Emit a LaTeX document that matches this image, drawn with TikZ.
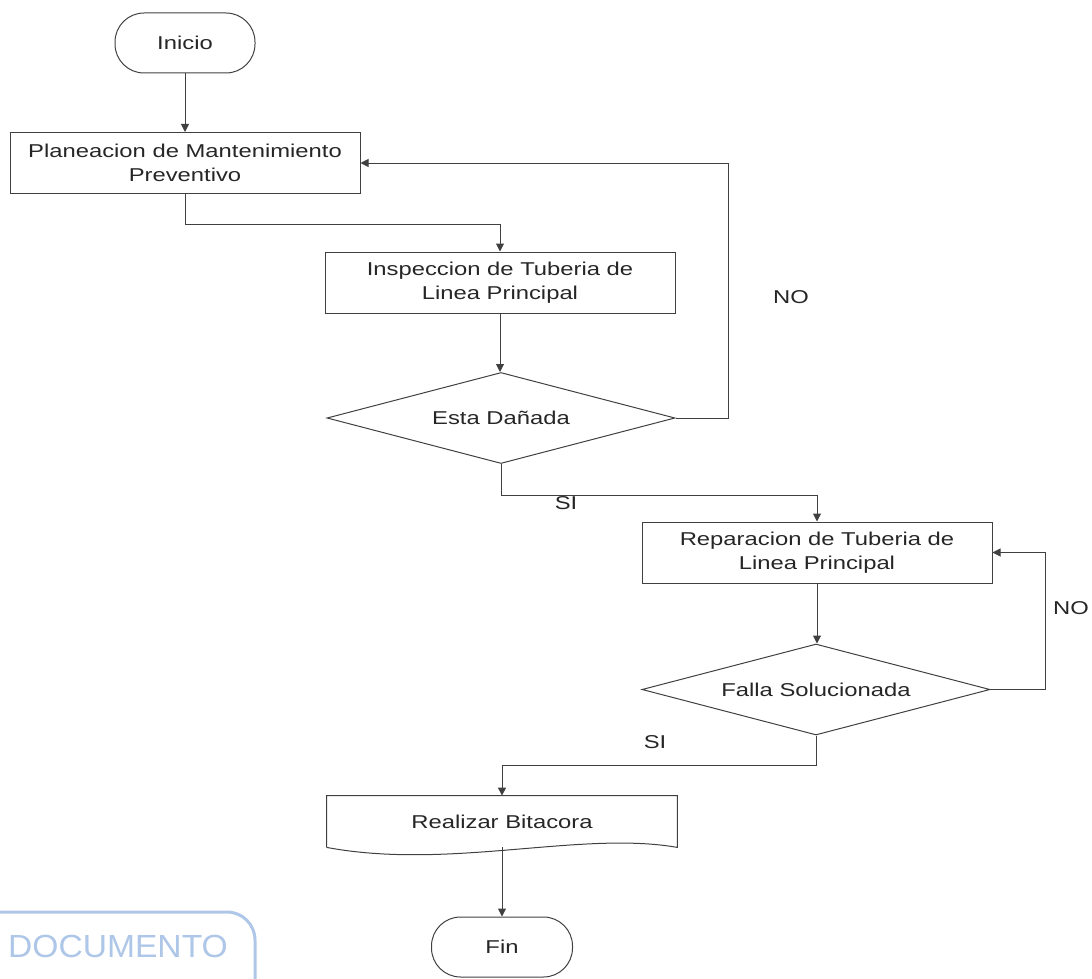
\documentclass[tikz,border=0pt]{standalone}
\usepackage{fontspec}
\setmainfont{Liberation Sans}
\usepackage{graphicx}
\usetikzlibrary{shapes.geometric,arrows.meta,calc}

\definecolor{azulsello}{RGB}{120,160,215}
\newcommand{\ancho}[1]{\scalebox{1.28}[1]{#1}}

\begin{document}
\begin{tikzpicture}[x=0.5pt,y=0.5pt,yscale=-1,xscale=1,
  linea/.style={draw=black!75,line width=0.5pt},
  flecha/.style={linea,-{Triangle[length=4pt,width=4pt]}},
  texto/.style={font=\fontsize{9.3}{12}\selectfont,text=black!85,align=center},
  proceso/.style={texto,linea,rectangle,minimum width=175pt,minimum height=30.5pt,inner sep=0pt},
  decision/.style={texto,linea,diamond,aspect=4,minimum width=174pt,minimum height=45.5pt,inner sep=0pt},
  terminal/.style={texto,linea,rectangle,rounded corners=14.5pt,minimum height=30pt,inner sep=0pt},
  documento/.style={texto,rectangle,minimum width=175pt,minimum height=25.5pt,inner sep=0pt},
  etiqueta/.style={texto}]
\useasboundingbox (0,0) rectangle (1092,979);
\clip (0,0) rectangle (1092,979);

% bloques
\node[terminal,minimum width=70pt] (inicio) at (185,43) {\ancho{Inicio}};
\node[proceso] (plan) at (185,163) {\ancho{Planeacion de Mantenimiento}\\\ancho{Preventivo}};
\node[proceso] (insp) at (500,282.5) {\ancho{Inspeccion de Tuberia de}\\\ancho{Linea Principal}};
\node[decision] (dan) at (501,418) {\ancho{Esta Dañada}};
\node[proceso] (rep) at (817,552.5) {\ancho{Reparacion de Tuberia de}\\\ancho{Linea Principal}};
\node[decision] (sol) at (816,689.5) {\ancho{Falla Solucionada}};
\node[documento] (bit) at (502,821.5) {\ancho{Realizar Bitacora}};
\draw[linea] (bit.south west) -- (bit.north west) -- (bit.north east) -- (bit.south east)
  .. controls ($(bit.south east)+(-97,-17)$) and ($(bit.south west)+(123,23)$) .. (bit.south west);
\node[terminal,minimum width=70.5pt] (fin) at (502,947) {\ancho{Fin}};

% etiquetas
\node[etiqueta] (no1) at (791,297) {\ancho{NO}};
\node[etiqueta] (si1) at (566,503) {\ancho{SI}};
\node[etiqueta] (no2) at (1071,608) {\ancho{NO}};
\node[etiqueta] (si2) at (655,742) {\ancho{SI}};

% conectores
\draw[flecha] (inicio.south) -- (inicio.south |- plan.north);
\draw[flecha] (plan.south) -- ++(0,30) -| (insp.north);
\draw[flecha] (insp.south) -- (insp.south |- dan.north);
\draw[flecha] (dan.east) -- ++(53,0) |- (plan.east);
\draw[flecha] (dan.south) -- ++(0,31) -| (rep.north);
\draw[flecha] (rep.south) -- (rep.south |- sol.north);
\draw[flecha] (sol.east) -- ++(55,0) |- (rep.east);
\draw[flecha] (sol.south) -- ++(0,30) -| (bit.north);
\draw[flecha] (bit.south) -- (fin.north);

% sello
\draw[draw=azulsello,draw opacity=0.6,line width=1.5pt,rounded corners=14] (-40,912) rectangle (255,1010);
\node[text=azulsello,text opacity=0.6,font=\fontsize{16}{19}\selectfont] (sello) at (118,946) {\scalebox{1.05}[1]{DOCUMENTO}};
\end{tikzpicture}
\end{document}
